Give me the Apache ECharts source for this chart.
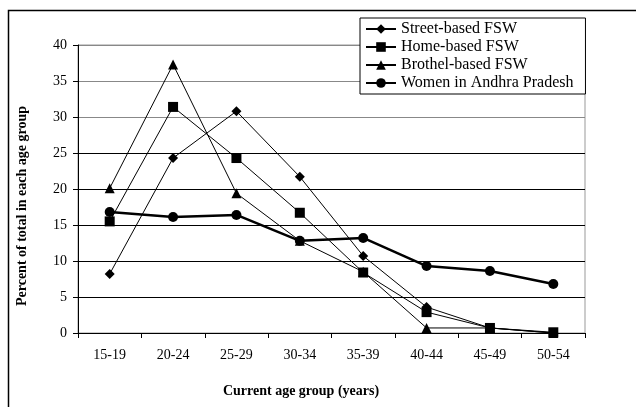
<!DOCTYPE html>
<html>
<head>
<meta charset="utf-8">
<title>Age distribution</title>
<script src="https://cdn.jsdelivr.net/npm/echarts@6/dist/echarts.min.js"></script>
<style>
  html, body { margin: 0; padding: 0; background: #fff; }
  #main { width: 636px; height: 407px; }
</style>
</head>
<body>
<div id="main"></div>
<script>
// data
var ageGroups = ['15-19', '20-24', '25-29', '30-34', '35-39', '40-44', '45-49', '50-54'];
var streetFSW = [8.2, 24.3, 30.8, 21.7, 10.7, 3.6, 0.7, 0];
var homeFSW = [15.5, 31.4, 24.3, 16.7, 8.4, 2.9, 0.7, 0.1];
var brothelFSW = [20.1, 37.3, 19.4, 12.8, 8.5, 0.7, 0.7, 0];
var womenAP = [16.8, 16.1, 16.4, 12.8, 13.2, 9.3, 8.6, 6.8];
var yTicks = [0, 40, 5]; // min, max, step

var font = '"Liberation Serif", "Times New Roman", serif';

var myChart = echarts.init(document.getElementById('main'));

function makeSeries(name, data, symbol, size, width) {
    return {
        name: name,
        type: 'line',
        data: data,
        symbol: symbol,
        symbolSize: size,
        lineStyle: { color: '#000', width: width },
        itemStyle: { color: '#000' },
        emphasis: { disabled: true },
        animation: false
    };
}

var option = {
    animation: false,
    textStyle: { fontFamily: font, color: '#000' },
    grid: { left: 78, right: 51, top: 45, bottom: 74, show: true, borderColor: '#999', borderWidth: 1 },
    legend: {
        orient: 'vertical',
        left: 360,
        top: 18,
        padding: [3, 12, 3, 5],
        itemGap: 2,
        itemWidth: 30,
        itemHeight: 12,
        borderColor: '#000',
        borderWidth: 1,
        borderRadius: 0,
        backgroundColor: '#fff',
        textStyle: { fontFamily: font, fontSize: 16, color: '#000' },
        data: ['Street-based FSW', 'Home-based FSW', 'Brothel-based FSW', 'Women in Andhra Pradesh']
    },
    xAxis: {
        type: 'category',
        data: ageGroups,
        boundaryGap: true,
        axisLine: { lineStyle: { color: '#000', width: 1 } },
        axisTick: { show: true, length: 5, interval: 0, lineStyle: { color: '#000' } },
        axisLabel: { fontFamily: font, fontSize: 14, color: '#000', margin: 15, interval: 0 }
    },
    yAxis: {
        type: 'value',
        min: yTicks[0],
        max: yTicks[1],
        interval: yTicks[2],
        axisLine: { show: true, lineStyle: { color: '#000', width: 1 } },
        axisTick: { show: true, length: 5, lineStyle: { color: '#000' } },
        axisLabel: { fontFamily: font, fontSize: 14, color: '#000', margin: 11 },
        splitLine: {
            lineStyle: {
                // top three grid lines are lighter in the original
                color: ['#000', '#000', '#000', '#000', '#000', '#000', '#888', '#888', '#888'],
                width: 1
            }
        }
    },
    graphic: [
        {
            // outer frame, runs off the right and bottom of the image
            type: 'rect',
            shape: { x: 8.5, y: 10.5, width: 700, height: 500 },
            style: { fill: 'none', stroke: '#000', lineWidth: 1.5 },
            z: 0
        },
        {
            type: 'text',
            x: 301,
            y: 391,
            style: {
                text: 'Current age group (years)',
                font: 'bold 14px ' + font,
                fill: '#000',
                align: 'center',
                verticalAlign: 'middle'
            }
        },
        {
            type: 'text',
            x: 22,
            y: 206,
            rotation: Math.PI / 2,
            style: {
                text: 'Percent of total in each age group',
                font: 'bold 14px ' + font,
                fill: '#000',
                align: 'center',
                verticalAlign: 'middle'
            }
        }
    ],
    series: [
        makeSeries('Street-based FSW', streetFSW, 'diamond', 10, 1),
        makeSeries('Home-based FSW', homeFSW, 'rect', 10, 1),
        makeSeries('Brothel-based FSW', brothelFSW, 'triangle', 10, 1),
        makeSeries('Women in Andhra Pradesh', womenAP, 'circle', 10, 2.5)
    ]
};

myChart.setOption(option);
</script>
</body>
</html>
